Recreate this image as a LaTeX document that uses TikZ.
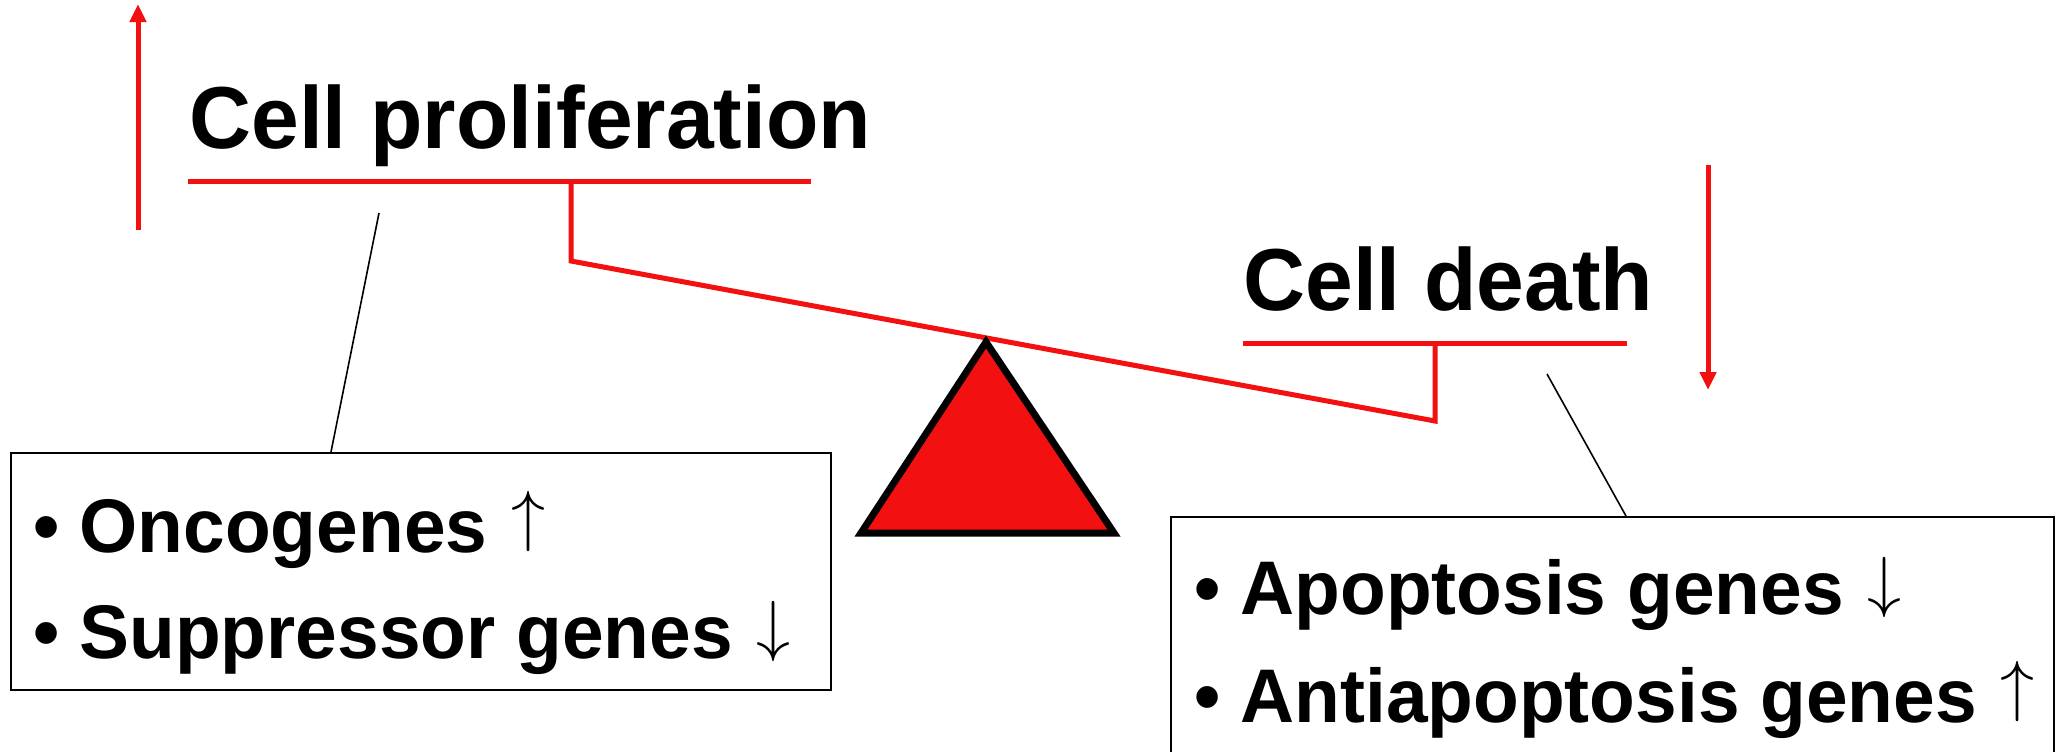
\documentclass[tikz,border=0pt]{standalone}
\usepackage{graphicx}
\usepackage{fontspec}
\setmainfont{Liberation Sans}
\newfontfamily\headfont{Liberation Sans}[FakeStretch=0.975]
\newfontfamily\itemfont{Liberation Sans}[FakeStretch=0.985]
\usetikzlibrary{arrows.meta,calc}
\definecolor{beamred}{RGB}{242,16,16}
% thin open-headed arrows after the gene names
\newcommand\risearrow{\hspace{12pt}\raisebox{6.6pt}{\scalebox{3.4}{\normalsize$\uparrow$}}}
\newcommand\fallarrow{\hspace{12pt}\raisebox{4.6pt}{\scalebox{3.4}{\normalsize$\downarrow$}}}
\begin{document}
\begin{tikzpicture}[x=0.5pt,y=-0.5pt,
  beam/.style={draw=beamred,line width=2.5pt},
  updown/.style={draw=beamred,line width=2.5pt,-{Triangle[length=9pt,width=8pt]}},
  title/.style={anchor=base west,inner sep=0pt,font=\headfont\fontsize{44}{50}\selectfont\bfseries},
  item/.style={anchor=base west,inner sep=0pt,font=\itemfont\fontsize{38}{44}\selectfont\bfseries},
  genebox/.style={draw=black,line width=1pt,inner sep=0pt},
  leader/.style={draw=black,line width=0.8pt}]
\useasboundingbox (0,0) rectangle (2058,751);

% headings
\node[title] (prolif) at (189,148) {Cell proliferation};
\node[title] (death) at (1243,310) {Cell death};

% balance beam with its two hangers
\coordinate (lbarL) at (188,181);
\coordinate (lbarR) at (811,181);
\coordinate (lhang) at (571,181);
\coordinate (lend) at (571,261);
\coordinate (rbarL) at (1243,343);
\coordinate (rbarR) at (1627,343);
\coordinate (rhang) at (1435,343);
\coordinate (rend) at (1435,421);
\draw[beam] (lbarL) -- (lbarR);
\draw[beam] (rbarL) -- (rbarR);
\draw[beam] (lhang) -- (lend) -- (rend) -- (rhang);

% fulcrum
\coordinate (apex) at (986,342);
\coordinate (baseL) at (861,533);
\coordinate (baseR) at (1114,533);
\draw[line width=3.5pt,fill=beamred,line join=miter] (apex) -- (baseL) -- (baseR) -- cycle;

% trend arrows
\coordinate (upS) at (138,230);
\coordinate (upE) at (138,4);
\coordinate (dnS) at (1708,165);
\coordinate (dnE) at (1708,390);
\draw[updown] (upS) -- (upE);
\draw[updown] (dnS) -- (dnE);

% gene boxes
\node[genebox,minimum width=410pt,minimum height=118.5pt] (lbox) at (421,571.5) {};
\node[genebox,minimum width=441.5pt,minimum height=136.5pt] (rbox) at (1612.5,653.5) {};

\node[item] (onc) at (33,552) {•\hspace{10pt}Oncogenes\risearrow};
\node[item] (sup) at (33,658) {•\hspace{10pt}Suppressor genes\fallarrow};
\node[item] (apo) at (1194,614) {•\hspace{10pt}Apoptosis genes\fallarrow};
\node[item] (anti) at (1194,722) {•\hspace{10pt}Antiapoptosis genes\risearrow};

% leader lines from headings to boxes
\coordinate (lpt) at (379,213);
\coordinate (rpt) at (1547,374);
\draw[leader] (lpt) -- ($(lbox.north west)+(321,0)$);
\draw[leader] (rpt) -- ($(rbox.north west)+(456,0)$);
\end{tikzpicture}
\end{document}
